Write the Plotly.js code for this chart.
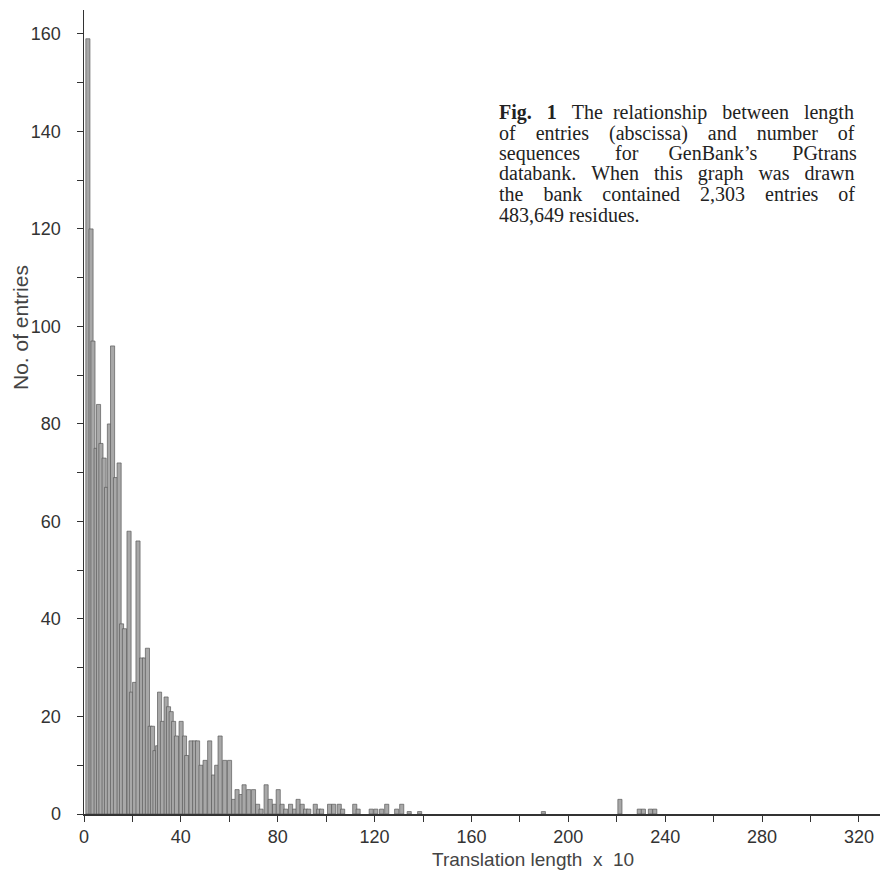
<!DOCTYPE html>
<html>
<head>
<meta charset="utf-8">
<script src="https://cdn.plot.ly/plotly-3.0.1.min.js"></script>
<style>html,body{margin:0;padding:0;background:#fff;}#chart{width:880px;height:872px;}</style>
</head>
<body>
<div id="chart"></div>
<script>
// Bin centres (translation length x 10)
const binCenters = [
  1.6, 2.9, 3.7, 5.0, 6.0, 7.0, 8.3, 9.3, 10.5, 11.8,
  13.0, 14.5, 15.5, 16.7, 18.6, 19.6, 20.9, 22.3, 23.8, 25.0,
  26.2, 27.3, 28.3, 29.3, 30.4, 31.2, 32.4, 33.9, 34.9, 36.0,
  37.0, 38.2, 40.1, 41.5, 42.4, 44.2, 45.7, 46.9, 48.3, 50.0,
  51.9, 53.5, 54.8, 56.2, 58.1, 60.1, 61.8, 63.2, 64.9, 66.1,
  68.0, 70.0, 71.7, 73.1, 75.2, 76.9, 78.7, 80.2, 81.8, 83.3,
  85.3, 87.0, 88.4, 90.1, 91.5, 92.8, 95.5, 96.9, 98.1, 101.4,
  103.1, 105.4, 106.8, 111.8, 113.2, 118.6, 120.5, 122.9, 125.0, 129.1,
  131.2, 134.3, 138.6, 189.7, 221.3, 229.3, 231.0, 233.9, 235.7
];
// Number of entries in each bin
const counts = [
  159, 120, 97, 75, 84, 76, 73, 67, 80, 96,
  69, 72, 39, 38, 58, 25, 27, 56, 32, 32,
  34, 18, 18, 13, 14, 25, 19, 24, 22, 21,
  19, 16, 19, 16, 12, 15, 15, 15, 10, 11,
  15, 8, 10, 16, 11, 11, 3, 5, 4, 6,
  5, 5, 2, 1, 6, 3, 2, 5, 2, 1,
  2, 1, 3, 2, 1, 1, 2, 1, 1, 2,
  2, 2, 1, 2, 1, 1, 1, 1, 2, 1,
  2, 0.5, 0.5, 0.5, 3, 1, 1, 1, 1
];
const xTickVals = [0, 40, 80, 120, 160, 200, 240, 280, 320];
const yTickVals = [0, 20, 40, 60, 80, 100, 120, 140, 160];
const captionLead = "Fig. 1";
const captionLines = [
  "The relationship between length",
  "of entries (abscissa) and number of",
  "sequences for GenBank\u2019s PGtrans",
  "databank. When this graph was drawn",
  "the bank contained 2,303 entries of",
  "483,649 residues."
];
const xTitle = "Translation length  x  10";
const yTitle = "No. of entries";

// pixel helpers for annotation placement
const L = 84, T = 10, W = 796, H = 804;
const px = v => (v - L) / W;
const py = v => (T + H - v) / H;

// justify caption lines by padding word gaps with no-break spaces
const capSize = 20;
const capFamily = 'Liberation Serif';
const cv = document.createElement('canvas').getContext('2d');
function wWidth(s, bold) {
  cv.font = (bold ? 'bold ' : '') + capSize + 'px "' + capFamily + '"';
  return cv.measureText(s).width;
}
function justify(words, boldCount, target) {
  const sp = wWidth('\u00a0', false);
  let total = 0;
  words.forEach((w, i) => { total += wWidth(w, i < boldCount); });
  const gaps = words.length - 1;
  total += gaps * sp;
  const extra = Math.max(0, Math.round((target - total) / sp));
  const add = new Array(gaps).fill(Math.floor(extra / gaps));
  const rem = extra % gaps;
  for (let i = 0; i < rem; i++) add[Math.floor((i + 0.5) * gaps / rem)] += 1;
  let out = '';
  words.forEach((w, i) => {
    out += (i < boldCount ? '<b>' + w + '</b>' : w);
    if (i < gaps) out += ' ' + '\u00a0'.repeat(add[i]);
  });
  return out;
}
const capTexts = captionLines.map((line, i) => {
  let words = line.split(' ');
  let bc = 0;
  if (i === 0) { words = captionLead.split(' ').concat(words); bc = 2; }
  if (i === captionLines.length - 1) return words.map((w, j) => j < bc ? '<b>' + w + '</b>' : w).join(' ');
  return justify(words, bc, 357);
});

const trace = {
  type: 'bar',
  x: binCenters,
  y: counts,
  width: 1.7,
  marker: {color: '#a8a8a8', line: {color: '#5a5a5a', width: 0.7}},
  hoverinfo: 'x+y'
};

const anns = [];
const capY = [112, 133, 153, 174, 194, 215];
capTexts.forEach((t, i) => anns.push({
  text: t, xref: 'paper', yref: 'paper', x: px(497), y: py(capY[i]),
  xanchor: 'left', yanchor: 'middle', showarrow: false,
  font: {family: capFamily + ', Times New Roman, serif', size: capSize, color: '#222'}
}));
anns.push({text: yTitle, xref: 'paper', yref: 'paper', x: px(20), y: py(328),
  xanchor: 'center', yanchor: 'middle', textangle: -90, showarrow: false,
  font: {family: 'Liberation Sans, Arial, sans-serif', size: 21, color: '#444'}});
anns.push({text: xTitle, xref: 'paper', yref: 'paper', x: px(533), y: py(860),
  xanchor: 'center', yanchor: 'middle', showarrow: false,
  font: {family: 'Liberation Sans, Arial, sans-serif', size: 19, color: '#444'}});

const layout = {
  width: 880, height: 872,
  margin: {l: L, r: 0, t: T, b: 872 - T - H},
  paper_bgcolor: '#fff', plot_bgcolor: '#fff',
  showlegend: false,
  bargap: 0,
  xaxis: {
    range: [0, 328.7], tickmode: 'array', tickvals: xTickVals,
    ticks: 'outside', ticklen: 6, tickwidth: 1, tickcolor: '#333',
    showline: true, linecolor: '#333', linewidth: 1.5,
    showgrid: false, zeroline: false,
    tickfont: {family: 'Liberation Sans, Arial, sans-serif', size: 18, color: '#333'},
    minor: {tickmode: 'array', tickvals: [20, 60, 100, 140, 180, 220, 260, 300], ticks: 'outside', ticklen: 6, tickcolor: '#333', showgrid: false}
  },
  yaxis: {
    range: [0, 164.9], tickmode: 'array', tickvals: yTickVals,
    ticks: 'outside', ticklen: 6, tickwidth: 1, tickcolor: '#333',
    showline: true, linecolor: '#333', linewidth: 1.5,
    showgrid: false, zeroline: false,
    tickfont: {family: 'Liberation Sans, Arial, sans-serif', size: 18, color: '#333'},
    ticklabelstandoff: 12,
    minor: {tickmode: 'array', tickvals: [10, 30, 50, 70, 90, 110, 130, 150], ticks: 'outside', ticklen: 6, tickcolor: '#333', showgrid: false}
  },
  annotations: anns
};

Plotly.newPlot('chart', [trace], layout, {displayModeBar: false, staticPlot: true});
</script>
</body>
</html>
